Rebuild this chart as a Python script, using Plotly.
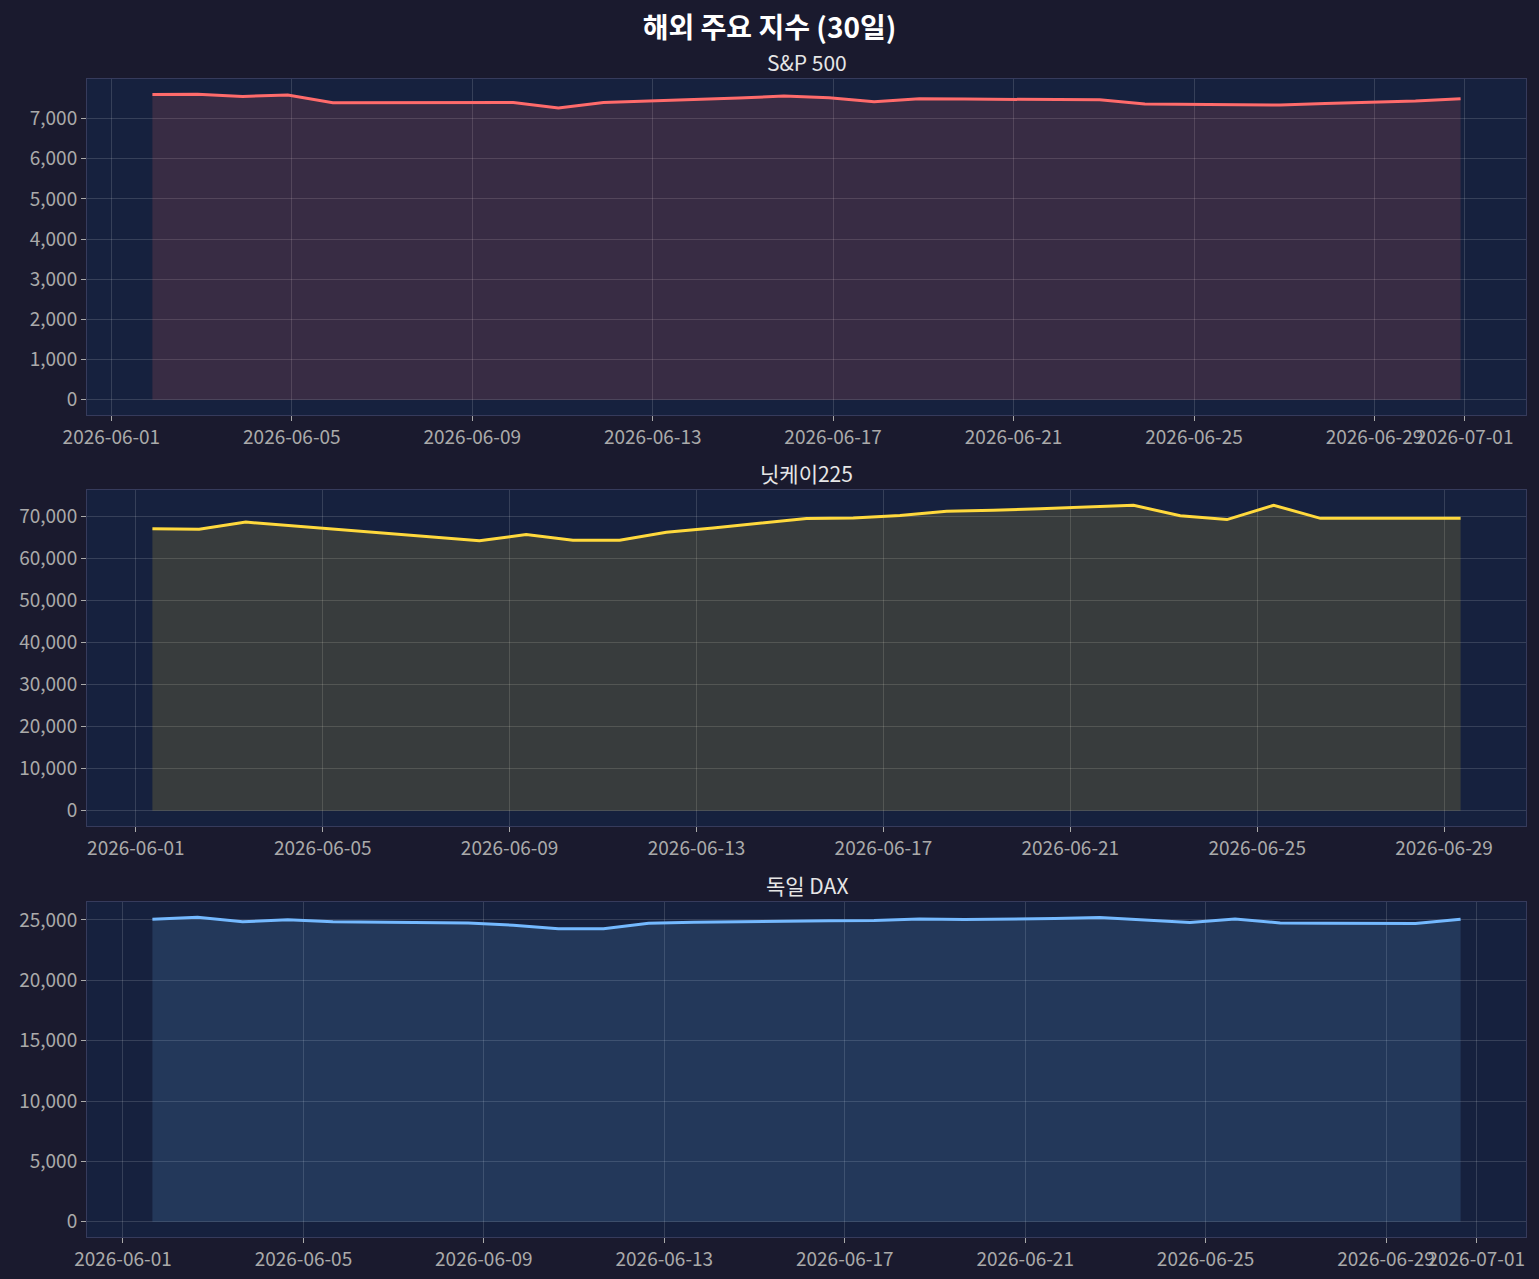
import pandas as pd
import plotly.graph_objects as go

# ---------------- data ----------------
title_text = "해외 주요 지수 (30일)"
series_names = ["S&P 500", "닛케이225", "독일 DAX"]

sp_dates = pd.date_range("2026-06-01 21:50", periods=30, freq="D")
sp_values = [7600, 7608, 7555, 7592, 7395, 7400, 7405, 7410, 7405, 7265,
             7405, 7440, 7475, 7515, 7565, 7522, 7420, 7495, 7488, 7480,
             7475, 7470, 7365, 7355, 7350, 7340, 7380, 7412, 7438, 7495]

nk_dates = pd.date_range("2026-06-01 08:30", periods=29, freq="D")
nk_values = [67000, 66900, 68600, 67700, 66850, 66000, 65100, 64150, 65650, 64300,
             64300, 66200, 67200, 68300, 69450, 69600, 70150, 71200, 71400, 71800,
             72200, 72600, 70100, 69200, 72600, 69500, 69500, 69500, 69500]

dax_dates = pd.date_range("2026-06-01 15:40", periods=30, freq="D")
dax_values = [25060, 25220, 24840, 25020, 24840, 24800, 24780, 24750, 24560, 24260,
              24260, 24720, 24800, 24860, 24920, 24920, 24950, 25080, 25030, 25060,
              25110, 25190, 24970, 24780, 25080, 24750, 24730, 24720, 24700, 25060]

x_tick_dates = ["2026-06-01", "2026-06-05", "2026-06-09", "2026-06-13", "2026-06-17",
                "2026-06-21", "2026-06-25", "2026-06-29", "2026-07-01"]
y_dticks = [1000, 10000, 5000]

line_colors = ["#ff6b6b", "#ffd93d", "#74b9ff"]
fill_colors = ["rgba(255,107,107,0.15)", "rgba(255,217,61,0.15)", "rgba(116,185,255,0.15)"]

# ---------------- figure ----------------
FONT = "Noto Sans CJK KR"
W, H = 1539, 1279
ml, mr, mt, mb = 87, 13, 79, 42
ph = H - mt - mb
panels_px = [(79, 415), (490, 826), (902, 1237)]

def dom(top, bot):
    return [(H - mb - bot) / ph, (H - mb - top) / ph]

fig = go.Figure()
data = [(sp_dates, sp_values), (nk_dates, nk_values), (dax_dates, dax_values)]

annotations = []
for i, ((d, v), name) in enumerate(zip(data, series_names)):
    ax = "" if i == 0 else str(i + 1)
    fig.add_trace(go.Scatter(
        x=d, y=v, mode="lines", fill="tozeroy", fillcolor=fill_colors[i],
        line=dict(color=line_colors[i], width=3),
        xaxis="x" + ax, yaxis="y" + ax, showlegend=False, name=name,
    ))
    dmin, dmax = d.min(), d.max()
    span = dmax - dmin
    xr = [dmin - span * 0.05, dmax + span * 0.05]
    ymax = max(v)
    ymin = min(0, min(v))
    yspan = ymax - ymin
    yr = [ymin - yspan * 0.05, ymax + yspan * 0.05]
    top, bot = panels_px[i]
    axis_common = dict(
        showline=True, mirror=True, linecolor="#363b5c", linewidth=1,
        gridcolor="rgba(255,255,255,0.14)", gridwidth=1,
        ticks="outside", ticklen=5, tickcolor="#aaaaaa", tickwidth=1,
        tickfont=dict(family=FONT, size=19, color="#aaaaaa"),
        zeroline=False, automargin=False,
    )
    fig.layout["xaxis" + ax] = dict(
        axis_common, domain=[0, 1], anchor="y" + ax, type="date",
        range=[xr[0].isoformat(), xr[1].isoformat()],
        tickvals=x_tick_dates, tickformat="%Y-%m-%d", tickangle=0,
    )
    fig.layout["yaxis" + ax] = dict(
        axis_common, domain=dom(top, bot), anchor="x" + ax,
        range=yr, dtick=y_dticks[i], tick0=0, tickformat=",d",
    )
    annotations.append(dict(
        text=name, x=0.5, xref="paper", y=dom(top, bot)[1], yref="paper",
        xanchor="center", yanchor="bottom", yshift=0, showarrow=False,
        font=dict(family=FONT, size=21, color="#e6e6e6"),
    ))

fig.update_layout(
    width=W, height=H,
    margin=dict(l=ml, r=mr, t=mt, b=mb, autoexpand=False),
    paper_bgcolor="#1a1a2e", plot_bgcolor="#16213e",
    title=dict(text="<b>" + title_text + "</b>", x=0.5, xref="container", xanchor="center",
               y=1 - 28 / H, yref="container", yanchor="middle",
               font=dict(family=FONT, size=28, color="#ffffff")),
    annotations=annotations,
    font=dict(family=FONT),
)

fig.write_html("out.html", config={"displayModeBar": False},
               post_script="document.body.style.margin='0';")
